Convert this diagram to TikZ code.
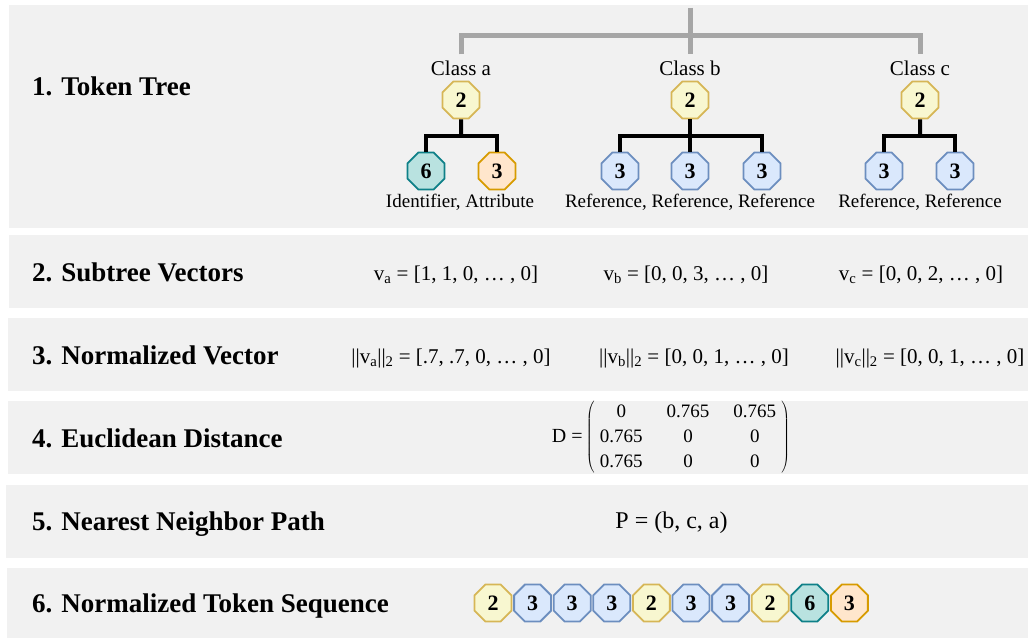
\documentclass[tikz,border=0pt]{standalone}
\usepackage{fontspec}
\setmainfont{Liberation Serif}
\usetikzlibrary{shapes.geometric}

\definecolor{panel}{HTML}{F1F1F1}
\definecolor{treegray}{HTML}{A6A6A6}
\definecolor{yfill}{HTML}{F8F7D0}
\definecolor{yline}{HTML}{D6B656}
\definecolor{bfill}{HTML}{DAE8FC}
\definecolor{bline}{HTML}{6C8EBF}
\definecolor{tfill}{HTML}{B9E2E0}
\definecolor{tline}{HTML}{0E8088}
\definecolor{ofill}{HTML}{FFE6CC}
\definecolor{oline}{HTML}{D79B00}

\tikzset{
  band/.style={fill=panel},
  heading/.style={anchor=base west, inner sep=0pt, font=\bfseries\fontsize{27}{30}\selectfont},
  formula/.style={anchor=base, inner sep=0pt, font=\fontsize{21}{24}\selectfont},
  cls/.style={anchor=base, inner sep=0pt, outer ysep=7pt, font=\fontsize{21}{24}\selectfont},
  kinds/.style={anchor=base, inner sep=0pt, font=\fontsize{19}{22}\selectfont},
  tok/.style={regular polygon, regular polygon sides=8, minimum size=40pt,
    inner sep=0pt, line width=1.8pt, font=\bfseries\fontsize{22}{22}\selectfont},
  ytok/.style={tok, draw=yline, fill=yfill},
  btok/.style={tok, draw=bline, fill=bfill},
  ttok/.style={tok, draw=tline, fill=tfill},
  otok/.style={tok, draw=oline, fill=ofill},
  graytree/.style={draw=treegray, line width=5pt},
  blacktree/.style={draw=black, line width=4pt},
}

\begin{document}
\begin{tikzpicture}[x=1pt, y=-1pt]
\useasboundingbox (0,0) rectangle (1028,639);

% background bands
\fill[band] (9,5) rectangle (1028,228);
\fill[band] (9,235) rectangle (1028,308);
\fill[band] (8,318) rectangle (1028,391);
\fill[band] (8,401) rectangle (1028,474);
\fill[band] (6,485) rectangle (1028,558);
\fill[band] (7,568) rectangle (1028,638);

% step headings
\node[heading] (h1) at (32,96) {1. Token Tree};
\node[heading] (h2) at (32,281) {2. Subtree Vectors};
\node[heading] (h3) at (32,364) {3. Normalized Vector};
\node[heading] (h4) at (32,447) {4. Euclidean Distance};
\node[heading] (h5) at (32,530) {5. Nearest Neighbor Path};
\node[heading] (h6) at (32,612) {6. Normalized Token Sequence};

% token tree: class labels and upper gray connectors
\coordinate (stub) at (690,8);
\coordinate (hub) at (690,36);
\node[cls] (clsa) at (461,76) {Class a};
\node[cls] (clsb) at (690,76) {Class b};
\node[cls] (clsc) at (920,76) {Class c};
\draw[graytree] (clsa.north) |- (hub) -| (clsc.north);
\draw[graytree] (stub) -- (clsb.north);

% class a
\node[ytok] (ra) at (461,100) {2};
\node[ttok] (a1) at (426,171) {6};
\node[otok] (a2) at (497,171) {3};
\coordinate (ja) at (461,136);
\draw[blacktree] (ra.south) -- (ja);
\draw[blacktree] (a1.north) |- (ja) -| (a2.north);
\node[kinds] (la) at (460,208) {Identifier, Attribute};

% class b
\node[ytok] (rb) at (690,100) {2};
\node[btok] (b1) at (620,171) {3};
\node[btok] (b2) at (690,171) {3};
\node[btok] (b3) at (762,171) {3};
\coordinate (jb) at (690,136);
\draw[blacktree] (rb.south) -- (b2.north);
\draw[blacktree] (b1.north) |- (jb) -| (b3.north);
\node[kinds] (lb) at (690,208) {Reference, Reference, Reference};

% class c
\node[ytok] (rc) at (920,100) {2};
\node[btok] (c1) at (884,171) {3};
\node[btok] (c2) at (955,171) {3};
\coordinate (jc) at (920,136);
\draw[blacktree] (rc.south) -- (jc);
\draw[blacktree] (c1.north) |- (jc) -| (c2.north);
\node[kinds] (lc) at (920,208) {Reference, Reference};

% subtree vectors
\node[formula] (va) at (456,280) {v\textsubscript{a} = [1, 1, 0, … , 0]};
\node[formula] (vb) at (686,280) {v\textsubscript{b} = [0, 0, 3, … , 0]};
\node[formula] (vc) at (921,280) {v\textsubscript{c} = [0, 0, 2, … , 0]};

% normalized vectors
\node[formula] (na) at (451,363) {||v\textsubscript{a}||\textsubscript{2} = [.7, .7, 0, … , 0]};
\node[formula] (nb) at (694,363) {||v\textsubscript{b}||\textsubscript{2} = [0, 0, 1, … , 0]};
\node[formula] (nc) at (930,363) {||v\textsubscript{c}||\textsubscript{2} = [0, 0, 1, … , 0]};

% distance matrix
\node[inner sep=0pt, font=\fontsize{20}{25}\selectfont] (dmat) at (671,437)
  {D =\,$\left(\vcenter{\hbox{\fontsize{19}{25}\selectfont\setlength{\tabcolsep}{12pt}%
    \begin{tabular}{@{\;}ccc@{\;}}0&0.765&0.765\\0.765&0&0\\0.765&0&0\end{tabular}}}\right)$};

% nearest neighbour path
\node[anchor=base, inner sep=0pt, font=\fontsize{24}{26}\selectfont] (path) at (671.5,528) {P = (b, c, a)};

% normalized token sequence
\node[ytok] (s1) at (493,603) {2};
\node[btok] (s2) at (532.6,603) {3};
\node[btok] (s3) at (572.2,603) {3};
\node[btok] (s4) at (611.8,603) {3};
\node[ytok] (s5) at (651.4,603) {2};
\node[btok] (s6) at (691,603) {3};
\node[btok] (s7) at (730.6,603) {3};
\node[ytok] (s8) at (770.2,603) {2};
\node[ttok] (s9) at (809.8,603) {6};
\node[otok] (s10) at (849.4,603) {3};
\end{tikzpicture}
\end{document}
